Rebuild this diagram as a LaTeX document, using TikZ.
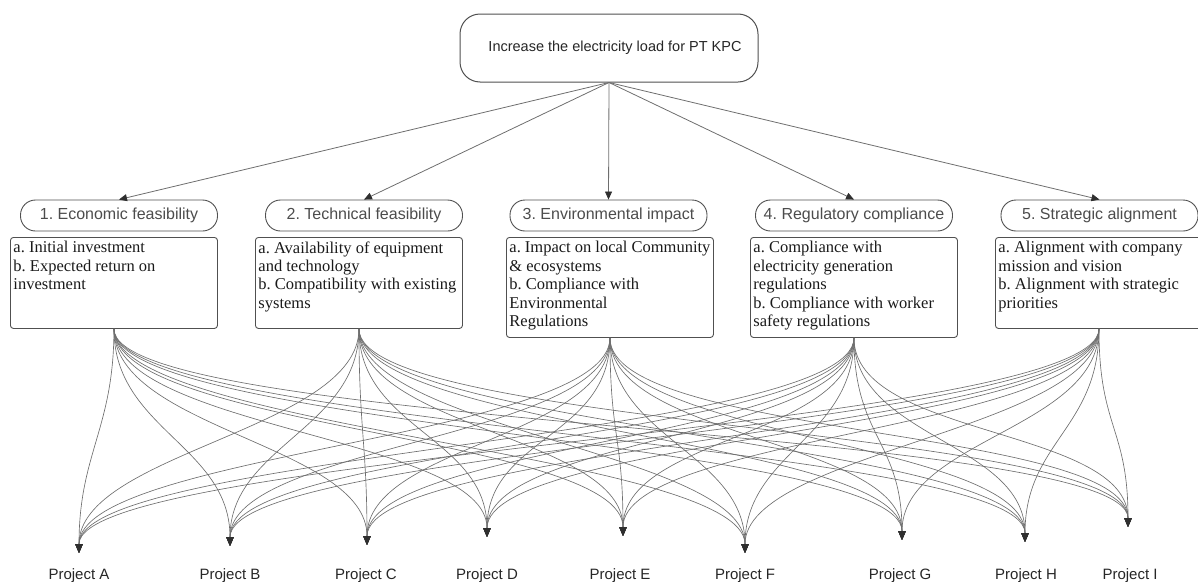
\documentclass[tikz,border=0pt]{standalone}
\usepackage{fontspec}
\setmainfont{Liberation Sans}
\newfontfamily\critfont{Liberation Serif}
\usetikzlibrary{arrows.meta}
\frenchspacing

\definecolor{linegray}{HTML}{6E6E6E}
\definecolor{tipgray}{HTML}{2F2F2F}
\definecolor{boxgray}{HTML}{505050}

\tikzset{
  goalbox/.style={draw=boxgray, line width=1pt, rounded corners=20pt,
    minimum width=298pt, minimum height=68pt,
    font=\fontsize{14.5}{17}\selectfont, text=black!85},
  critpill/.style={draw=boxgray, line width=0.9pt, rounded corners=15pt,
    minimum width=197pt, minimum height=31pt, inner sep=0pt,
    font=\fontsize{16}{19}\selectfont, text=black!70},
  subbox/.style={draw=boxgray, line width=0.9pt, rounded corners=3pt,
    anchor=north west, inner xsep=3pt, inner ysep=4pt,
    font=\critfont\fontsize{16.5}{18.4}\selectfont, text=black!90},
  projlabel/.style={anchor=base, font=\fontsize{15}{18}\selectfont, text=black!85},
  toparrow/.style={draw=linegray, line width=0.8pt,
    -{Triangle[length=8pt, width=7pt, color=tipgray]}},
  link/.style={draw=linegray, line width=0.65pt,
    -{Triangle[length=9pt, width=7.5pt, color=tipgray]}}
}

\begin{document}
\begin{tikzpicture}[x=1pt, y=-1pt]
  \useasboundingbox (0,0) rectangle (1198,581);

  % === 目标 ===
  \node[goalbox] (goal) at (609,48) {\hspace*{12pt}Increase the electricity load for PT KPC};

  % === 五项准则 ===
  \foreach \i/\x/\txt in {1/119/1. Economic feasibility,
                          2/364/2. Technical feasibility,
                          3/608.5/3. Environmental impact,
                          4/854/4. Regulatory compliance,
                          5/1099.5/5. Strategic alignment} {
    \node[critpill] (crit\i) at (\x,215.5) {\txt};
    \draw[toparrow] (goal.south) -- (crit\i.north);
  }

  % === 子准则方框（高度 91 或 100）===
  \foreach \i/\x/\h/\txt in {
      1/10/83/{a. Initial investment\\b. Expected return on\\investment},
      2/255/83/{a. Availability of equipment\\and technology\\b. Compatibility with existing\\systems},
      3/506/92/{a. Impact on local Community\\\& ecosystems\\b. Compliance with\\Environmental\\Regulations},
      4/750/92/{a. Compliance with\\electricity generation\\regulations\\b. Compliance with worker\\safety regulations},
      5/995/83/{a. Alignment with company\\mission and vision\\b. Alignment with strategic\\priorities}} {
    \node[subbox] (sub\i) at (\x,237)
      {\parbox[c][\h pt][t]{201pt}{\raggedright\txt}};
  }

  % === 项目（箭头终点 + 标签）===
  \foreach \p/\x/\y/\lx in {A/79/553/79, B/230/546/230, C/367/545/366,
                            D/487/537/487, E/623/536/620, F/745/553/745,
                            G/902/540/900, H/1025/542/1026, I/1128/527/1130} {
    \coordinate (proj\p) at (\x,\y);
    \node[projlabel] (lab\p) at (\lx,579) {Project \p};
  }

  % === 每个子准则连向全部九个项目 ===
  \foreach \i in {1,...,5} {
    \foreach \p in {A,B,C,D,E,F,G,H,I} {
      \draw[link] (sub\i.south) .. controls +(0,100) and +(0,-100) .. (proj\p);
    }
  }
\end{tikzpicture}
\end{document}
